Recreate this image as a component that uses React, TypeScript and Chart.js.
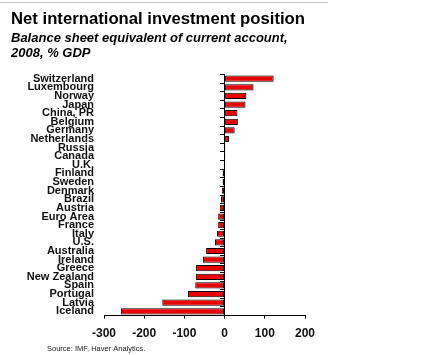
import React, { useEffect, useRef } from "react";
import { Chart, registerables } from "chart.js";

Chart.register(...registerables);

const countries = [
  "Switzerland", "Luxembourg", "Norway", "Japan", "China, PR", "Belgium", "Germany",
  "Netherlands", "Russia", "Canada", "U.K.", "Finland", "Sweden", "Denmark", "Brazil",
  "Austria", "Euro Area", "France", "Italy", "U.S.", "Australia", "Ireland", "Greece",
  "New Zealand", "Spain", "Portugal", "Latvia", "Iceland",
];
const niipValues = [
  122, 72, 54, 52, 32, 33, 25, 11, 2, 2, -2, -5, -5, -7, -9,
  -12, -16, -16, -19, -24, -46, -54, -71, -71, -73, -91, -155, -258,
];
const xMin = -300;
const xMax = 200;
const xStep = 100;

const titleText = "Net international investment position";
const subtitleLines = ["Balance sheet equivalent of current account,", "2008, % GDP"];
const sourceText = "Source: IMF, Haver Analytics.";

const FONT = "'Liberation Sans', Arial, sans-serif";

export default function App() {
  const ref = useRef<HTMLCanvasElement | null>(null);
  useEffect(() => {
    if (!ref.current) return;
    const decor = {
      id: "decor",
      beforeDraw(chart: any) {
        const ctx = chart.ctx;
        ctx.save();
        ctx.strokeStyle = "#c4c4c4";
        ctx.lineWidth = 1;
        ctx.beginPath();
        ctx.moveTo(0, 2.5);
        ctx.lineTo(328, 2.5);
        ctx.stroke();
        ctx.restore();
      },
      afterDraw(chart: any) {
        const ctx = chart.ctx;
        ctx.save();
        ctx.font = `7.5px ${FONT}`;
        ctx.fillStyle = "#222";
        ctx.textBaseline = "middle";
        ctx.textAlign = "left";
        ctx.fillText(sourceText, 47, 349);
        ctx.restore();
      },
    };
    const chart = new Chart(ref.current, {
      type: "bar",
      data: {
        labels: countries,
        datasets: [
          {
            data: niipValues,
            backgroundColor: "rgb(235,0,0)",
            borderColor: "#000",
            borderWidth: 1,
            borderSkipped: false,
            barPercentage: 0.72,
            categoryPercentage: 1,
            yAxisID: "y",
          },
        ],
      },
      options: {
        indexAxis: "y",
        animation: false,
        responsive: false,
        devicePixelRatio: 1,
        layout: { padding: { top: 5, left: 11, right: 129, bottom: 6 } },
        plugins: {
          legend: { display: false },
          tooltip: { enabled: false },
          title: {
            display: true,
            text: titleText,
            align: "start",
            color: "#000",
            font: { family: FONT, size: 17, weight: "bold", lineHeight: 1.2 },
            padding: { top: 4, bottom: 0 },
          },
          subtitle: {
            display: true,
            text: subtitleLines,
            align: "start",
            color: "#000",
            font: { family: FONT, size: 13, weight: "bold", style: "italic", lineHeight: 15 / 13 },
            padding: { top: 2, bottom: 13 },
          },
        },
        scales: {
          x: {
            type: "linear",
            min: xMin,
            max: xMax,
            ticks: {
              stepSize: xStep,
              color: "#111",
              padding: 8,
              font: { family: FONT, size: 12, weight: "bold" },
            },
            grid: { drawOnChartArea: false, drawTicks: true, tickLength: 3, color: "#000" },
            border: { display: true, color: "#000", width: 1 },
          },
          y: {
            type: "category",
            position: "left",
            ticks: {
              autoSkip: false,
              color: "#111",
              padding: 10,
              font: { family: FONT, size: 11, weight: "bold" },
            },
            grid: { display: false, drawTicks: false },
            border: { display: false },
            afterFit(scale: any) {
              scale.width = 93;
            },
          },
          y2: {
            type: "category",
            position: { x: 0 },
            offset: true,
            ticks: { display: false },
            grid: { drawOnChartArea: false, drawTicks: true, tickLength: 4, color: "#000", offset: true },
            border: { display: true, color: "#000", width: 1 },
          },
        },
      } as any,
      plugins: [decor],
    });
    return () => chart.destroy();
  }, []);
  return (
    <div style={{ position: "absolute", left: 0, top: 0, width: 434, height: 355, background: "#fff" }}>
      <canvas ref={ref} width={434} height={355} />
    </div>
  );
}
